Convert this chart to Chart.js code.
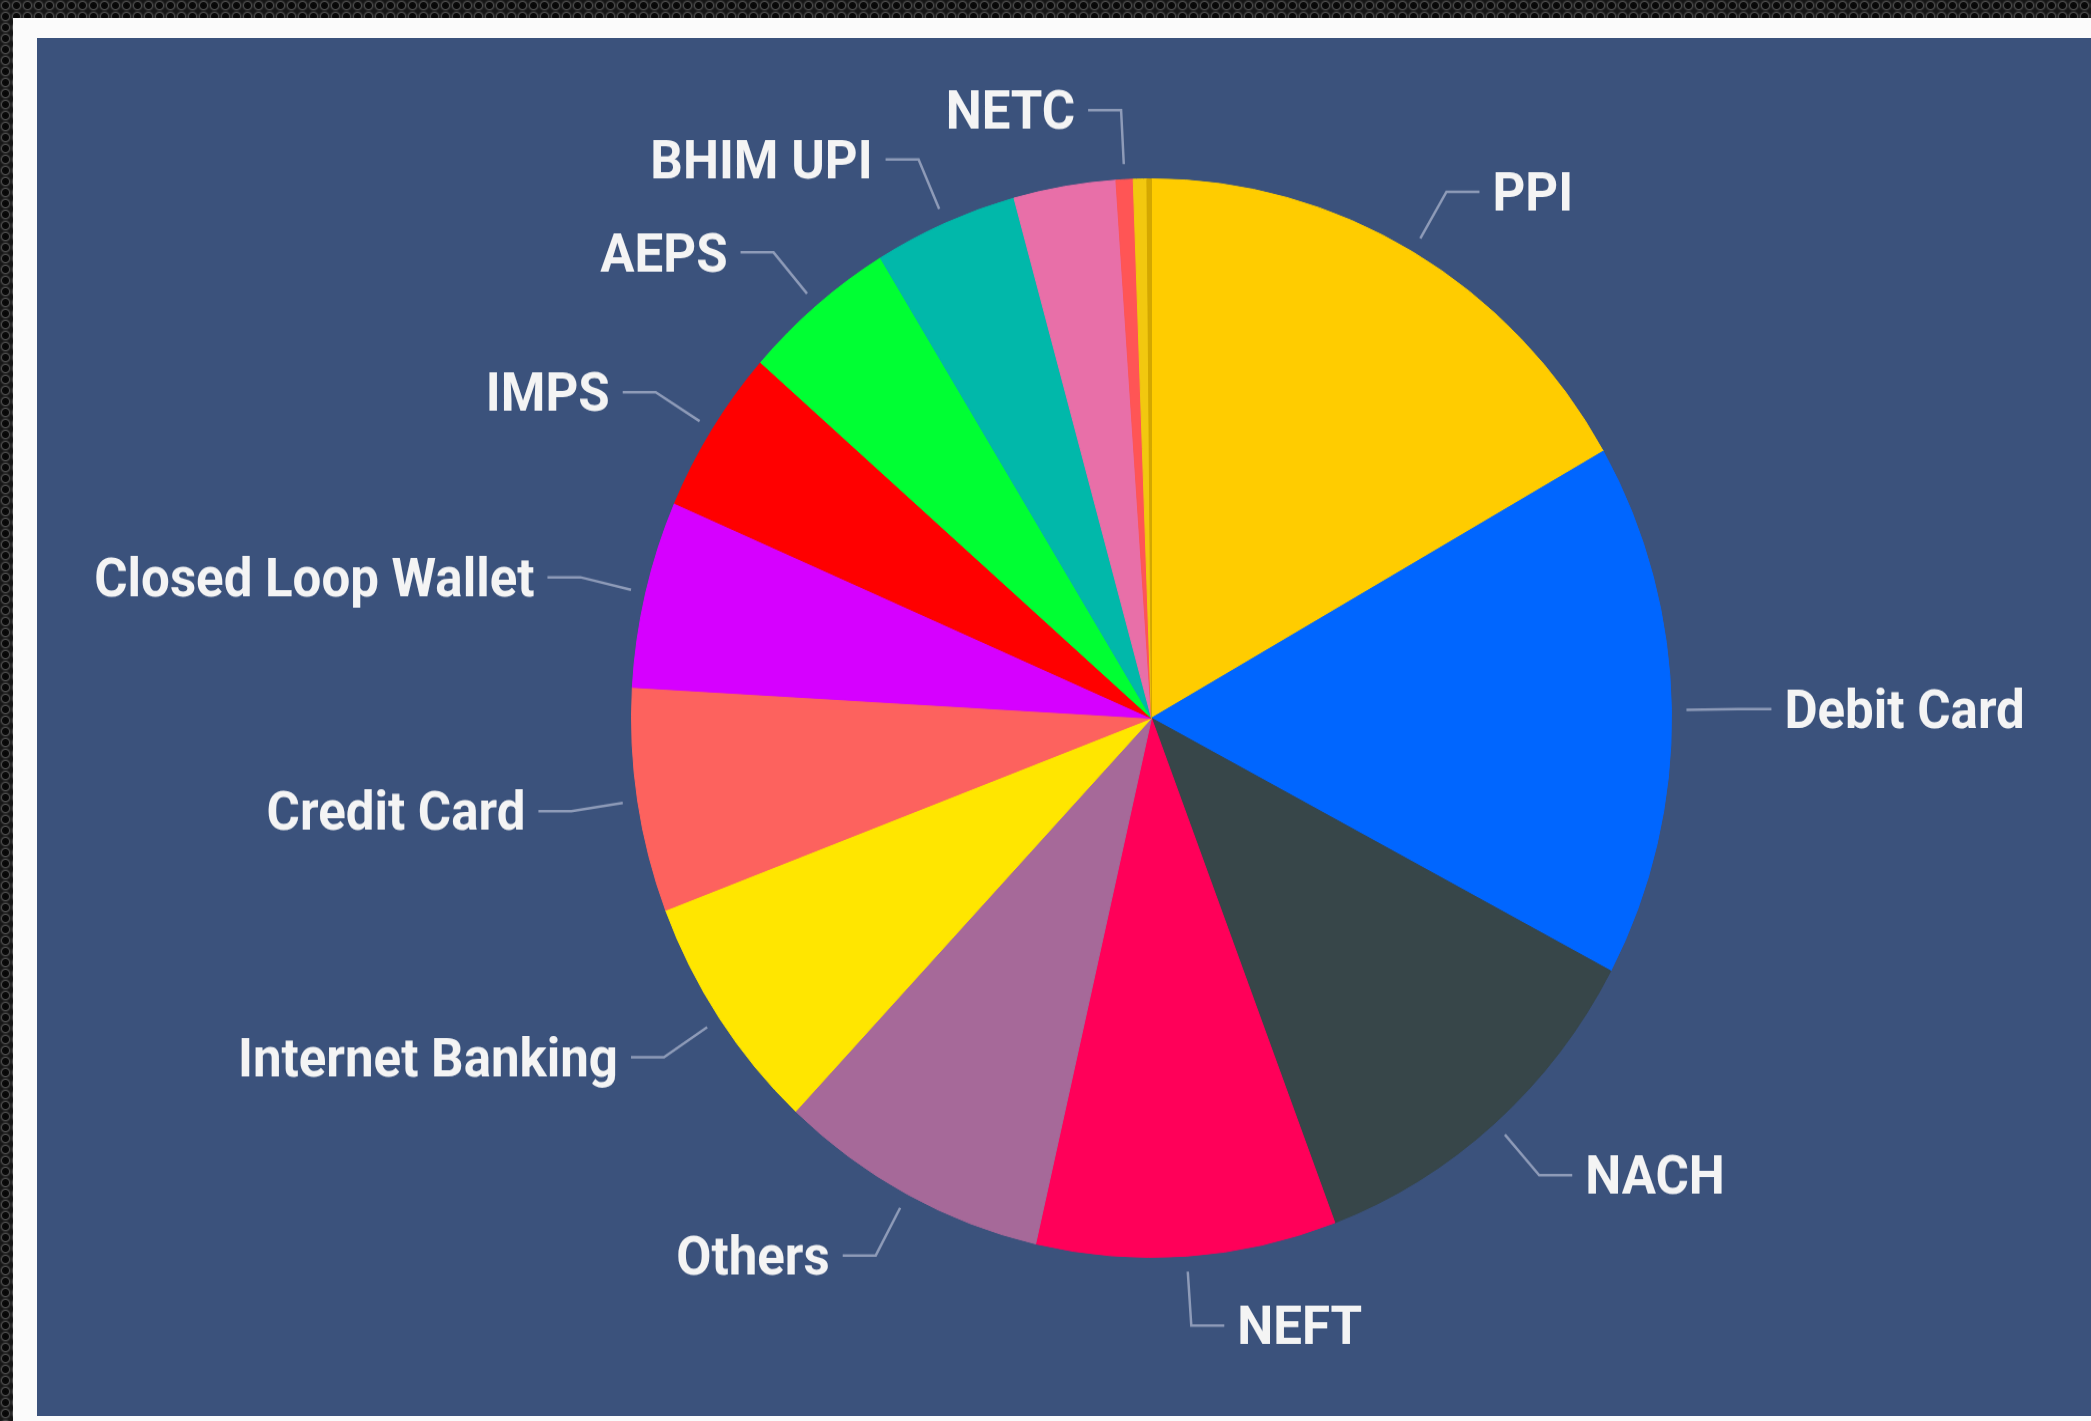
<!DOCTYPE html>
<html>
<head>
<meta charset="utf-8">
<script src="https://cdn.jsdelivr.net/npm/chart.js@4/dist/chart.umd.min.js"></script>
<style>
  html, body { margin: 0; padding: 0; }
  body {
    width: 2091px; height: 1421px; overflow: hidden; position: relative;
    background-color: #161616;
    background-image: radial-gradient(circle at center, #050505 0, #0b0b0b 3px, #4a4a4a 4px, #2a2a2a 5px, #161616 6px);
    background-size: 11px 11px;
  }
  #frame { position: absolute; left: 13px; top: 18px; right: 0; bottom: 0; background: #fbfbfb; }
  #panel { position: absolute; left: 37px; top: 38px; right: 0; height: 1378px; background: #3b527c; }
  #wrap {
    position: absolute; left: 0; top: 0; width: 2091px; height: 1370px;
    transform: scaleY(1.037); transform-origin: 0 0;
  }
</style>
</head>
<body>
<div id="frame"></div>
<div id="panel"></div>
<div id="wrap"><canvas id="pieChart"></canvas></div>
<script>
// slice names, clockwise from 12 o'clock ('' = no label shown in the picture)
const categories = ['PPI', 'Debit Card', 'NACH', 'NEFT', 'Others', 'Internet Banking', 'Credit Card',
    'Closed Loop Wallet', 'IMPS', 'AEPS', 'BHIM UPI', '', 'NETC', '', ''];
// share of total (%)
const shares = [16.76, 16.01, 11.5, 9.31, 8.42, 7.21, 6.71, 5.61, 4.94, 4.81, 4.47, 3.17, 0.53, 0.42, 0.14];
const sliceColors = ['#ffcc00', '#0066ff', '#374649', '#ff0059', '#a66999', '#ffe600', '#fd625e',
    '#d600ff', '#ff0000', '#00ff33', '#01b8aa', '#e86fa8', '#ff5555', '#f2c80f', '#d4a800'];

// leader lines + labels like the Power BI pie
const leaderLabels = {
    id: 'leaderLabels',
    afterDatasetsDraw(chart) {
        const ctx = chart.ctx;
        const arcs = chart.getDatasetMeta(0).data;
        const fontSize = 51;
        ctx.save();
        ctx.font = 'bold ' + fontSize + 'px Roboto';
        ctx.textBaseline = 'alphabetic';
        ctx.strokeStyle = '#8e9bb8';
        ctx.lineWidth = 2.5;
        ctx.fillStyle = '#f4f4f4';
        arcs.forEach((arc, i) => {
            const label = chart.data.labels[i];
            if (!label) return;
            const p = arc.getProps(['x', 'y', 'startAngle', 'endAngle', 'outerRadius'], true);
            const mid = (p.startAngle + p.endAngle) / 2;
            const dx = Math.cos(mid), dy = Math.sin(mid);
            const right = dx >= 0;
            const x1 = p.x + dx * (p.outerRadius + 15), y1 = p.y + dy * (p.outerRadius + 15);
            const x2 = p.x + dx * (p.outerRadius + 67), y2 = p.y + dy * (p.outerRadius + 67);
            const x3 = x2 + (right ? 33 : -33);
            ctx.beginPath();
            ctx.moveTo(x1, y1);
            ctx.lineTo(x2, y2);
            ctx.lineTo(x3, y2);
            ctx.stroke();
            ctx.textAlign = right ? 'left' : 'right';
            ctx.fillText(label, x3 + (right ? 13 : -13), y2 + fontSize * 0.711 / 2);
        });
        ctx.restore();
    }
};

new Chart(document.getElementById('pieChart'), {
    type: 'pie',
    data: {
        labels: categories,
        datasets: [{
            data: shares,
            backgroundColor: sliceColors,
            borderColor: sliceColors,
            borderWidth: 1
        }]
    },
    options: {
        responsive: true,
        maintainAspectRatio: false,
        animation: false,
        layout: { padding: { left: 631, right: 419, top: 172, bottom: 157 } },
        plugins: {
            legend: { display: false },
            tooltip: { enabled: false }
        }
    },
    plugins: [leaderLabels]
});
</script>
</body>
</html>
